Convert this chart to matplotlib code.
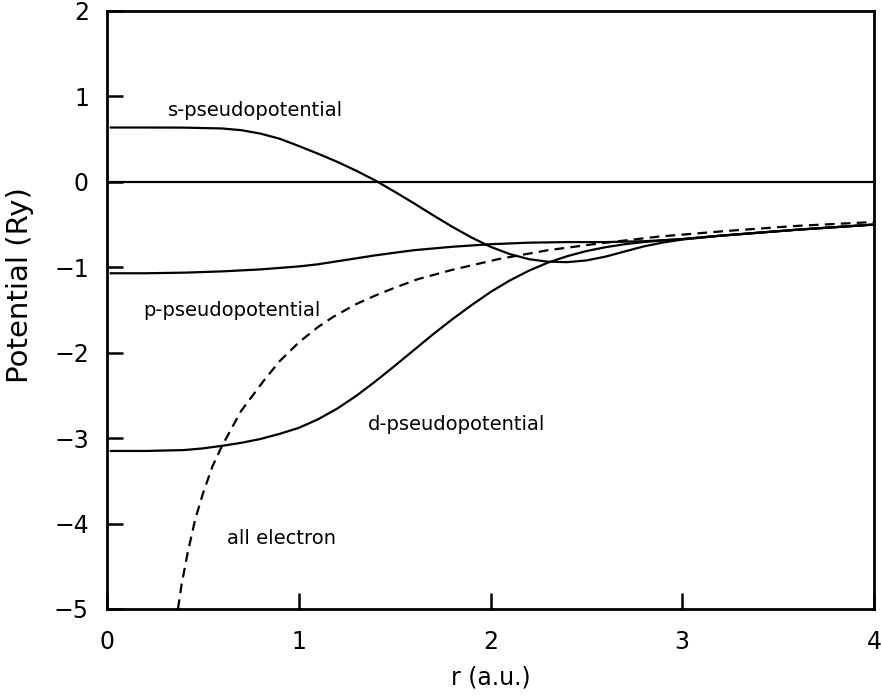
import matplotlib
matplotlib.use("Agg")
import matplotlib.pyplot as plt

plt.rcParams['font.family'] = ['DejaVu Sans']
plt.rcParams['lines.scale_dashes'] = False

# s-pseudopotential
r_s = [0.02, 0.2, 0.4, 0.6, 0.7, 0.8, 0.9, 1.0, 1.1, 1.2, 1.3, 1.4, 1.5, 1.6, 1.7,
       1.8, 1.9, 2.0, 2.1, 2.2, 2.3, 2.4, 2.5, 2.6, 2.7, 2.8, 2.9, 3.0, 3.2, 3.4,
       3.6, 3.8, 4.0]
v_s = [0.636, 0.636, 0.635, 0.625, 0.605, 0.565, 0.505, 0.42, 0.33, 0.235, 0.13,
       0.015, -0.115, -0.25, -0.39, -0.525, -0.65, -0.76, -0.845, -0.905, -0.935,
       -0.94, -0.92, -0.875, -0.815, -0.755, -0.71, -0.675, -0.63, -0.595, -0.56,
       -0.53, -0.50]

# p-pseudopotential
r_p = [0.02, 0.2, 0.4, 0.6, 0.8, 1.0, 1.1, 1.2, 1.3, 1.4, 1.5, 1.6, 1.8, 2.0, 2.2,
       2.4, 2.6, 2.8, 3.0, 3.2, 3.4, 3.6, 3.8, 4.0]
v_p = [-1.07, -1.07, -1.063, -1.048, -1.025, -0.99, -0.965, -0.93, -0.895, -0.86,
       -0.83, -0.80, -0.76, -0.73, -0.712, -0.705, -0.705, -0.695, -0.67, -0.63,
       -0.595, -0.56, -0.53, -0.50]

# d-pseudopotential
r_d = [0.02, 0.2, 0.4, 0.5, 0.6, 0.7, 0.8, 0.9, 1.0, 1.1, 1.2, 1.3, 1.4, 1.5, 1.6,
       1.7, 1.8, 1.9, 2.0, 2.1, 2.2, 2.3, 2.4, 2.5, 2.6, 2.7, 2.8, 2.9, 3.0, 3.2,
       3.4, 3.6, 3.8, 4.0]
v_d = [-3.15, -3.15, -3.14, -3.12, -3.09, -3.055, -3.01, -2.95, -2.88, -2.78,
       -2.655, -2.505, -2.335, -2.155, -1.97, -1.785, -1.61, -1.445, -1.29, -1.155,
       -1.04, -0.945, -0.87, -0.81, -0.765, -0.73, -0.705, -0.685, -0.67, -0.63,
       -0.595, -0.56, -0.53, -0.50]

# all electron
r_ae = [0.37, 0.39, 0.42, 0.46, 0.5, 0.55, 0.6, 0.7, 0.82, 0.9, 1.0, 1.1, 1.18,
        1.3, 1.4, 1.5, 1.62, 1.8, 2.05, 2.3, 2.57, 2.88, 3.23, 3.6, 4.0]
v_ae = [-5.0, -4.7, -4.35, -3.95, -3.65, -3.33, -3.09, -2.68, -2.32, -2.1, -1.88,
        -1.70, -1.58, -1.43, -1.33, -1.24, -1.14, -1.03, -0.90, -0.80, -0.72, -0.64,
        -0.575, -0.515, -0.47]

labels = ["s-pseudopotential", "p-pseudopotential", "d-pseudopotential", "all electron"]
label_pos = [(0.318, 0.773), (0.188, -1.57), (1.361, -2.904), (0.624, -4.239)]

xticks = [0, 1, 2, 3, 4]
yticks = [-5, -4, -3, -2, -1, 0, 1, 2]

fig = plt.figure(figsize=(8.82, 6.97), dpi=100)
ax = fig.add_axes([107/882, 1 - 609/697, (874-107)/882, (609-11)/697])

lw = 1.6
ax.axhline(0, color='black', lw=lw)
ax.plot(r_s, v_s, color='black', lw=lw)
ax.plot(r_p, v_p, color='black', lw=lw)
ax.plot(r_d, v_d, color='black', lw=lw)
ax.plot(r_ae, v_ae, color='black', lw=lw, dashes=(7, 4.5))

for t, (x, y) in zip(labels, label_pos):
    ax.text(x, y, t, fontsize=14, ha='left', va='baseline')

ax.set_xlim(0, 4)
ax.set_ylim(-5, 2)
ax.set_xticks(xticks)
ax.set_yticks(yticks)
for s in ax.spines.values():
    s.set_linewidth(2)
ax.tick_params(direction='in', length=11.5, width=1.8, labelsize=17,
               top=False, right=False)
ax.tick_params(axis='x', pad=15)
ax.tick_params(axis='y', pad=13)
ax.set_xlabel("r (a.u.)", fontsize=17)
ax.set_ylabel("Potential (Ry)", fontsize=21)
ax.xaxis.set_label_coords(0.5, (609 - 666) / 598)
ax.yaxis.set_label_coords((34 - 107) / 767, (609 - 285) / 598)

fig.savefig("out.png", dpi=100)
